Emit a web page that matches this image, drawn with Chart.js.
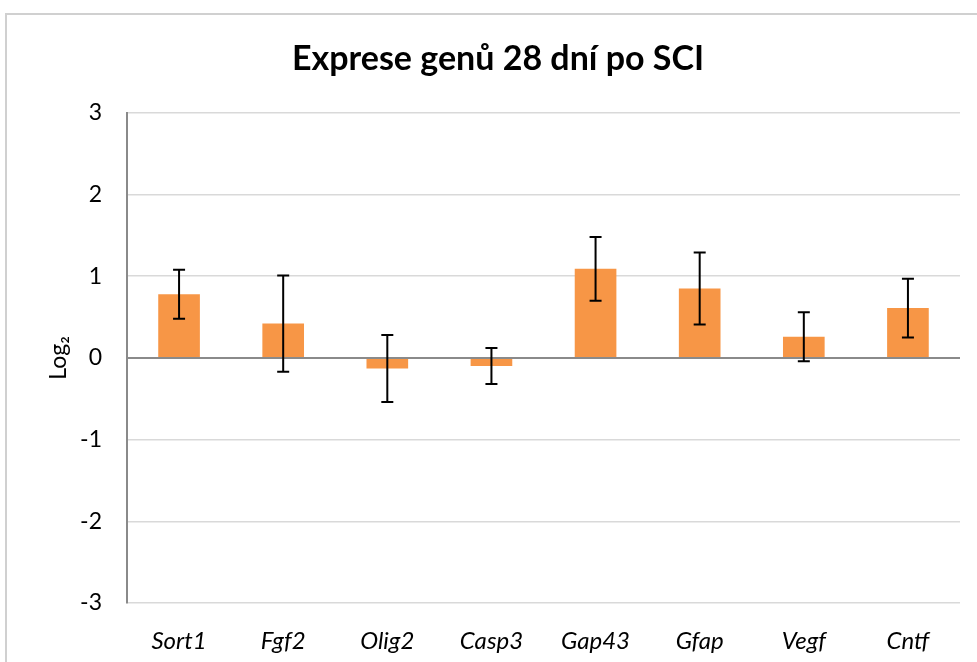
<!DOCTYPE html>
<html>
<head>
<meta charset="utf-8">
<script src="https://cdn.jsdelivr.net/npm/chart.js@4/dist/chart.umd.min.js"></script>
<style>
  html, body { margin: 0; padding: 0; background: #fff; }
  #wrap { position: relative; width: 977px; height: 662px; overflow: hidden; }
  #frame { position: absolute; left: 5px; top: 13px; width: 1200px; height: 900px; border: 2px solid #d0d0d0; box-sizing: border-box; pointer-events: none; }
  canvas { position: absolute; left: 0; top: 0; }
</style>
</head>
<body>
<div id="wrap">
  <canvas id="c" width="977" height="662"></canvas>
  <div id="frame"></div>
</div>
<script>
const categories = ["Sort1", "Fgf2", "Olig2", "Casp3", "Gap43", "Gfap", "Vegf", "Cntf"];
const values = [0.78, 0.42, -0.13, -0.10, 1.09, 0.85, 0.26, 0.61];
const errors = [0.30, 0.59, 0.41, 0.22, 0.39, 0.44, 0.30, 0.36];
const yTicks = [-3, -2, -1, 0, 1, 2, 3];

const FONT = "Lato, 'Open Sans', sans-serif";

const errorBars = {
  id: 'errorBars',
  afterDatasetsDraw(chart) {
    const ctx = chart.ctx;
    const meta = chart.getDatasetMeta(0);
    const y = chart.scales.y;
    ctx.save();
    ctx.strokeStyle = '#000';
    ctx.lineWidth = 2;
    meta.data.forEach((bar, i) => {
      const x = bar.x;
      const yt = y.getPixelForValue(values[i] + errors[i]);
      const yb = y.getPixelForValue(values[i] - errors[i]);
      const cap = 6;
      ctx.beginPath();
      ctx.moveTo(x, yt); ctx.lineTo(x, yb);
      ctx.moveTo(x - cap, yt); ctx.lineTo(x + cap, yt);
      ctx.moveTo(x - cap, yb); ctx.lineTo(x + cap, yb);
      ctx.stroke();
    });
    ctx.restore();
  }
};

new Chart(document.getElementById('c'), {
  type: 'bar',
  data: {
    labels: categories,
    datasets: [{
      data: values,
      backgroundColor: '#F79646',
      borderWidth: 0,
      categoryPercentage: 1.0,
      barPercentage: 0.4
    }]
  },
  options: {
    responsive: false,
    animation: false,
    layout: { padding: { left: 36, right: 17, top: 0, bottom: 0 } },
    plugins: {
      legend: { display: false },
      tooltip: { enabled: false },
      title: {
        display: true,
        text: 'Exprese genů 28 dní po SCI',
        color: '#000',
        font: { family: FONT, size: 34, weight: 'bold', lineHeight: 1.2 },
        padding: { top: 39, bottom: 33 }
      }
    },
    scales: {
      x: {
        grid: { display: false },
        border: { display: false },
        ticks: {
          color: '#000',
          font: { family: FONT, size: 24, style: 'italic' },
          padding: 16
        },
        afterFit(scale) { scale.height = 59; }
      },
      y: {
        min: -3,
        max: 3,
        afterBuildTicks(scale) { scale.ticks = yTicks.map(v => ({ value: v })); },
        grid: {
          drawTicks: false,
          color: ctx => (ctx.tick && ctx.tick.value === 0) ? '#8a8a8a' : '#d9d9d9',
          lineWidth: ctx => (ctx.tick && ctx.tick.value === 0) ? 2 : 1.5
        },
        border: { display: true, color: '#8a8a8a', width: 2 },
        ticks: {
          color: '#000',
          font: { family: FONT, size: 23 },
          padding: 25
        },
        title: {
          display: true,
          text: 'Log₂',
          color: '#000',
          font: { family: FONT, size: 23, lineHeight: 1.2 },
          padding: { top: 9, bottom: 0 }
        },
        afterFit(scale) { scale.width = 91; }
      }
    }
  },
  plugins: [errorBars]
});
</script>
</body>
</html>
